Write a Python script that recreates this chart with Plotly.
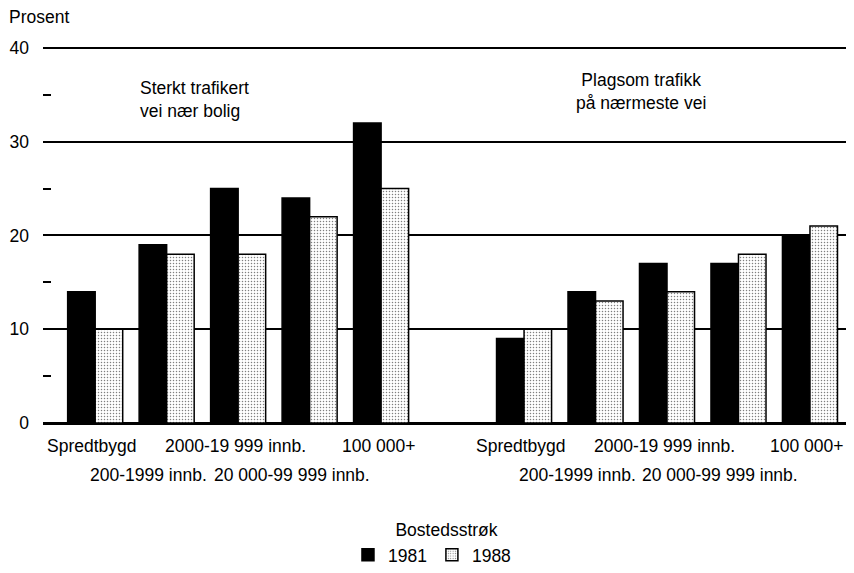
import plotly.graph_objects as go

# Bostedsstrøk categories (two panels share the same categories)
categories = ["Spredtbygd", "200-1999 innb.", "2000-19 999 innb.",
              "20 000-99 999 innb.", "100 000+"]
years = ["1981", "1988"]

# Sterkt trafikert vei nær bolig
heavy_1981 = [14, 19, 25, 24, 32]
heavy_1988 = [10, 18, 18, 22, 25]
# Plagsom trafikk på nærmeste vei
plague_1981 = [9, 14, 17, 17, 20]
plague_1988 = [10, 13, 14, 18, 21]

panel_titles = ["Sterkt trafikert<br>vei nær bolig", "Plagsom trafikk<br>på nærmeste vei"]
y_ticks = [0, 10, 20, 30, 40]

FONT = "Liberation Sans, Arial, sans-serif"
FS = 17.5

# numeric slots: left panel 0-4, empty slot 5, right panel 6-10
left_x = list(range(len(categories)))
right_x = [i + len(categories) + 1 for i in left_x]
x_all = left_x + right_x

fig = go.Figure()

fig.add_trace(go.Bar(
    name=years[0],
    x=x_all,
    y=heavy_1981 + plague_1981,
    marker=dict(color="black", line=dict(color="black", width=1.5)),
))
fig.add_trace(go.Bar(
    name=years[1],
    x=x_all,
    y=heavy_1988 + plague_1988,
    marker=dict(
        color="white",
        line=dict(color="black", width=1.5),
        pattern=dict(shape=".", fgcolor="black", bgcolor="white", size=3, solidity=0.2),
    ),
))

# staggered category labels under each panel
annotations = []
for xs in (left_x, right_x):
    for i, (x, label) in enumerate(zip(xs, categories)):
        second_row = i % 2 == 1
        annotations.append(dict(
            x=x, xref="x", y=0, yref="paper",
            text=label, showarrow=False,
            xanchor="center", yanchor="middle",
            xshift=-18 if second_row else -3,
            yshift=-52 if second_row else -23,
            font=dict(size=FS),
        ))

annotations.append(dict(
    x=0.6, xref="x", y=34.5, yref="y", text=panel_titles[0], showarrow=False,
    xanchor="left", yanchor="middle", align="left", font=dict(size=FS),
))
annotations.append(dict(
    x=7.64, xref="x", y=35.3, yref="y", text=panel_titles[1], showarrow=False,
    xanchor="center", yanchor="middle", align="center", font=dict(size=FS),
))
annotations.append(dict(
    x=-0.045, xref="paper", y=40, yref="y", yshift=31, text="Prosent", showarrow=False,
    xanchor="left", yanchor="middle", font=dict(size=FS),
))

# the page body adds an 8px margin, so the figure is 8px smaller on each axis
fig.update_layout(
    width=846, height=565,
    margin=dict(l=35, r=4, t=38, b=150, autoexpand=False),
    paper_bgcolor="white", plot_bgcolor="white",
    font=dict(family=FONT, size=FS, color="black"),
    barmode="group", bargap=0.23, bargroupgap=0,
    annotations=annotations,
    showlegend=True,
    legend=dict(
        orientation="h", x=0.482, xanchor="center", y=-0.35, yanchor="middle",
        font=dict(size=FS), itemwidth=30,
    ),
    xaxis=dict(
        range=[-0.73, 10.56], showticklabels=False, showgrid=False,
        zeroline=False, showline=False, ticks="",
        title=dict(text="Bostedsstrøk", standoff=100, font=dict(size=FS)),
        automargin=False,
    ),
    yaxis=dict(
        range=[0, 40.2], tickmode="array", tickvals=y_ticks,
        ticktext=[str(v) for v in y_ticks],
        showgrid=True, gridcolor="black", gridwidth=1.6,
        zeroline=True, zerolinecolor="black", zerolinewidth=2.5,
        showline=False, ticks="", ticklabelstandoff=13,
        minor=dict(tickvals=[5, 15, 25, 35], ticks="inside", ticklen=8,
                   tickwidth=2, tickcolor="black", showgrid=False),
        automargin=False,
    ),
)

fig.write_html("out.html")
